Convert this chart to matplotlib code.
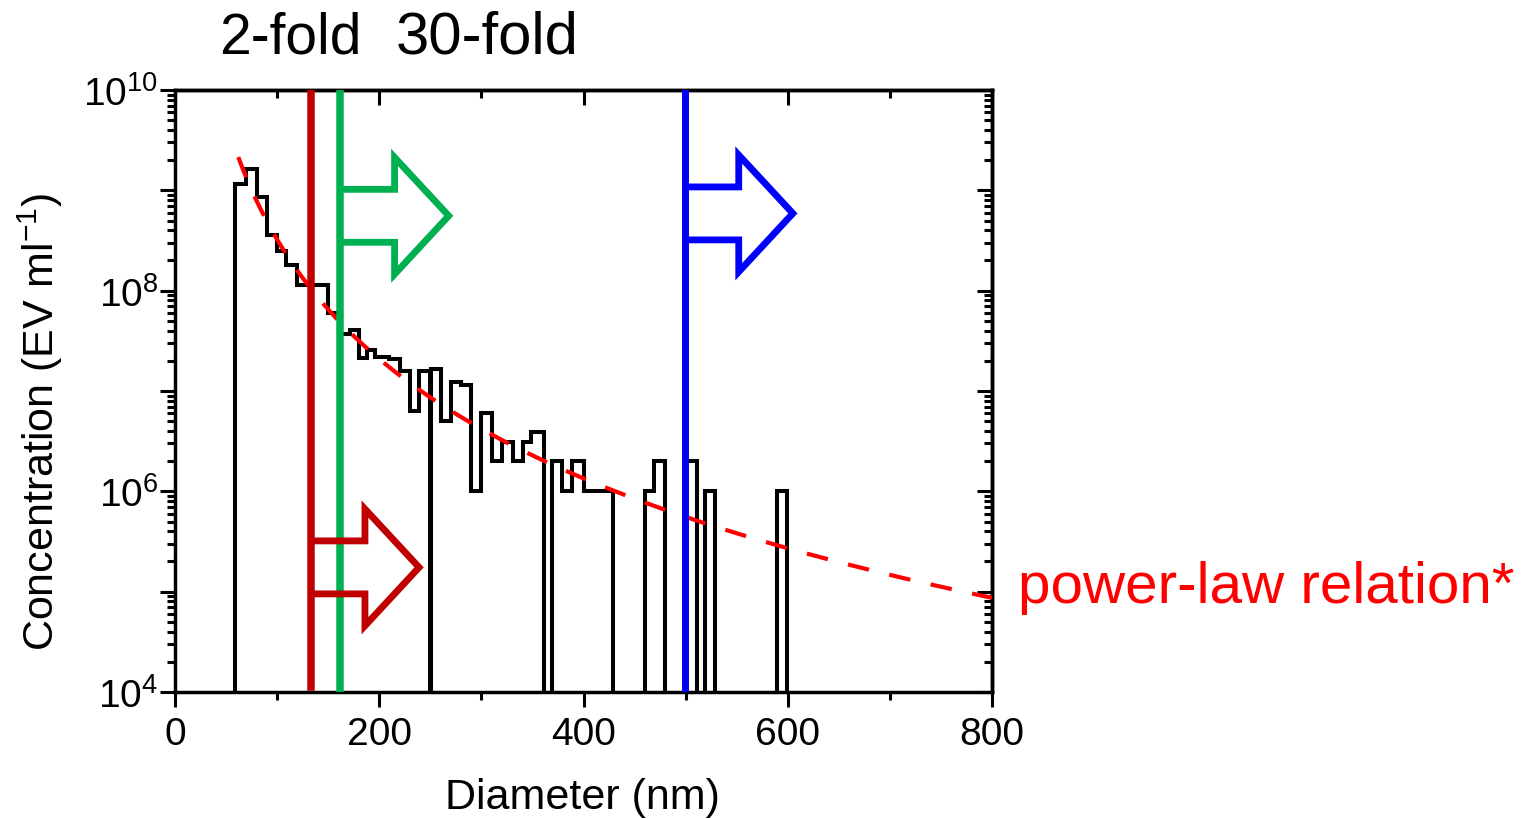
import numpy as np
import matplotlib
matplotlib.use('Agg')
import matplotlib.pyplot as plt
from matplotlib import ticker

plt.rcParams['font.family'] = ['Liberation Sans', 'DejaVu Sans']
plt.rcParams['mathtext.fontset'] = 'custom'
plt.rcParams['mathtext.rm'] = 'Liberation Sans'
plt.rcParams['mathtext.it'] = 'Liberation Sans:italic'
plt.rcParams['mathtext.bf'] = 'Liberation Sans:bold'

# histogram: bin edges (nm) and concentration (EV/ml), 0 = empty bin
bin_edges = [59, 70, 80, 90, 100, 109, 119, 129, 140, 150,
             162, 171, 180, 188, 196, 210, 220, 230, 239, 250,
             250.4, 260, 270, 280, 290, 300, 310, 320, 331, 341,
             349, 361, 369, 379, 389, 400, 429, 460, 469, 480,
             500, 511, 519, 529, 589, 599]
conc = [1.15e9, 1.65e9, 8.6e8, 3.6e8, 2.5e8, 1.8e8, 1.13e8, 1.13e8, 1.13e8, 6e7,
        3.7e7, 4.05e7, 2.15e7, 2.55e7, 2.2e7, 2.1e7, 1.58e7, 6.3e6, 1.58e7, 0,
        1.65e7, 5e6, 1.23e7, 1.14e7, 1e6, 6e6, 2e6, 3.1e6, 2e6, 3.1e6,
        3.9e6, 0, 2e6, 1e6, 2e6, 1e6, 0, 1e6, 2e6, 0,
        2e6, 0, 1e6, 0, 1e6]

# power-law relation C = 10**law_log_a * d**law_exp
law_exp = -3.955
law_log_a = 16.42
law_range = (62, 800)

# detection thresholds (nm)
cut_2fold = 133
cut_30fold = 162
cut_blue = 499

x_ticks = [0, 200, 400, 600, 800]

fig = plt.figure(figsize=(15.3, 8.2), dpi=100)
ax = fig.add_axes([175 / 1530, 127 / 820, 817 / 1530, 602 / 820])

# histogram outline (empty bins pushed below the axis)
vals = np.where(np.array(conc) > 0, conc, 1.0)
ax.stairs(vals, bin_edges, baseline=1.0, fill=False, color='black', lw=2.9, zorder=3)

# power-law curve
d = np.linspace(law_range[0], law_range[1], 400)
ax.plot(d, 10 ** law_log_a * d ** law_exp, color='#FF0000', lw=3.0,
        dashes=(5.2, 5.0), zorder=4, clip_on=False)

# threshold lines
ax.axvline(cut_2fold, ymin=0.008, ymax=1, color='#C00000', lw=5.4, zorder=5)
ax.axvline(cut_30fold, color='#00B050', lw=5.4, zorder=5)
ax.axvline(cut_blue, color='#0000FF', lw=5.0, zorder=5)

# outlined block arrows, x in nm, y in axes fraction
shaft_len, head_len = 53, 53
shaft_half, head_half = 0.044, 0.097


def block_arrow(x0, yc, color):
    xb = x0 + shaft_len
    xt = xb + head_len
    xs = [x0, xb, xb, xt, xb, xb, x0]
    ys = [yc + shaft_half, yc + shaft_half, yc + head_half, yc,
          yc - head_half, yc - shaft_half, yc - shaft_half]
    ax.plot(xs, ys, color=color, lw=4.9, transform=ax.get_xaxis_transform(),
            solid_joinstyle='miter', solid_capstyle='butt', zorder=5)


block_arrow(cut_30fold, 0.791, '#00B050')
block_arrow(cut_2fold, 0.207, '#C00000')
block_arrow(cut_blue, 0.795, '#0000FF')

# axes
ax.set_xlim(0, 800)
ax.set_yscale('log')
ax.set_ylim(1e4, 1e10)
for s in ax.spines.values():
    s.set_linewidth(2.5)

ax.xaxis.set_major_locator(ticker.FixedLocator(x_ticks))
ax.xaxis.set_minor_locator(ticker.MultipleLocator(100))
ax.yaxis.set_major_locator(ticker.LogLocator(base=10, numticks=20))
ax.yaxis.set_minor_locator(ticker.LogLocator(base=10, subs=np.arange(2, 10), numticks=20))


def ylab(v, pos):
    e = int(round(np.log10(v)))
    return r'$\mathregular{10^{%d}}$' % e if e % 2 == 0 else ''


ax.yaxis.set_major_formatter(ticker.FuncFormatter(ylab))
ax.yaxis.set_minor_formatter(ticker.NullFormatter())

ax.tick_params(which='major', direction='out', length=11, width=2.2, labelsize=28,
               top=False, right=False)
ax.tick_params(which='minor', direction='out', length=6, width=2.2, top=False, right=False)
ax.tick_params(axis='x', which='major', pad=6)
ax.tick_params(axis='y', which='major', pad=1)

# mirrored ticks pointing inwards on top and right
secx = ax.secondary_xaxis('top')
secx.xaxis.set_major_locator(ticker.FixedLocator(x_ticks))
secx.xaxis.set_minor_locator(ticker.MultipleLocator(100))
secx.xaxis.set_major_formatter(ticker.NullFormatter())
secx.tick_params(which='major', direction='in', length=11, width=2.2)
secx.tick_params(which='minor', direction='in', length=6, width=2.2)
secx.spines['top'].set_linewidth(2.5)

secy = ax.secondary_yaxis('right')
secy.set_yscale('log')
secy.yaxis.set_major_locator(ticker.LogLocator(base=10, numticks=20))
secy.yaxis.set_minor_locator(ticker.LogLocator(base=10, subs=np.arange(2, 10), numticks=20))
secy.yaxis.set_major_formatter(ticker.NullFormatter())
secy.yaxis.set_minor_formatter(ticker.NullFormatter())
secy.tick_params(which='major', direction='in', length=11, width=2.2)
secy.tick_params(which='minor', direction='in', length=6, width=2.2)
secy.spines['right'].set_linewidth(2.5)

# labels
fig.text(582.5 / 1530, 0.013, 'Diameter (nm)', fontsize=31, ha='center', va='baseline')
fig.text(40 / 1530, 0.485, r'Concentration (EV ml$^{\mathregular{-1}}$)', fontsize=31,
         rotation=90, ha='center', va='center')

fig.text(219.5 / 1530, 0.935, '2-fold', fontsize=41, ha='left', va='baseline')
fig.text(396 / 1530, 0.935, '30-fold', fontsize=43, ha='left', va='baseline')
fig.text(1018 / 1530, 0.2643, 'power-law relation*', fontsize=42, color='#FF0000',
         ha='left', va='baseline')

fig.savefig('out.png', dpi=100)
